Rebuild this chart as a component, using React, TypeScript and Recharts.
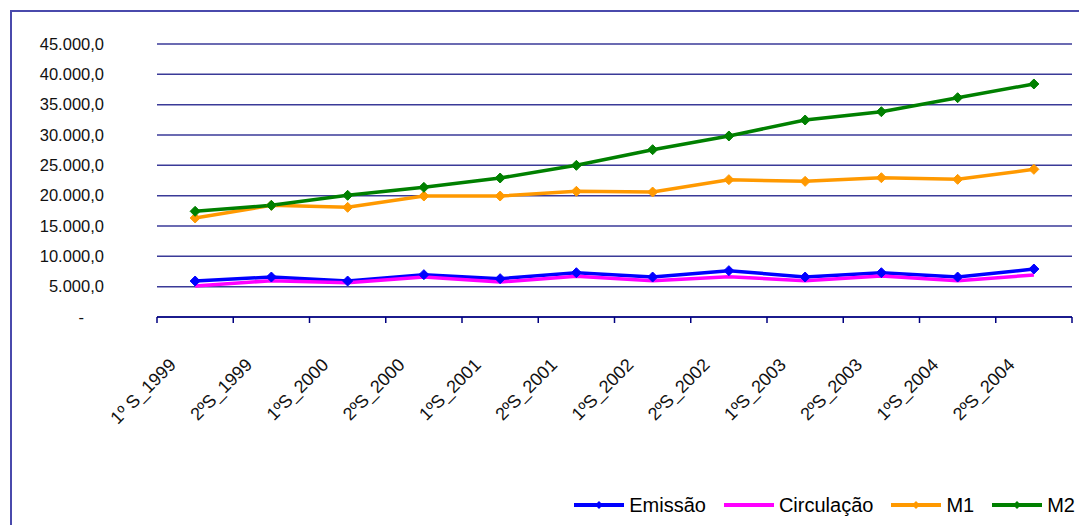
import React from 'react';
import { LineChart, Line, XAxis, YAxis, CartesianGrid, Legend } from 'recharts';

const W = 1079;
const H = 525;

const categories = [
  '1º S_1999', '2ºS_1999', '1ºS_2000', '2ºS_2000', '1ºS_2001', '2ºS_2001',
  '1ºS_2002', '2ºS_2002', '1ºS_2003', '2ºS_2003', '1ºS_2004', '2ºS_2004',
];
const emissao = [5930, 6590, 5930, 6980, 6320, 7300, 6590, 7640, 6590, 7300, 6590, 7910];
const circulacao = [5110, 5990, 5660, 6590, 5770, 6700, 5990, 6650, 5990, 6750, 5990, 6920];
const m1 = [16320, 18400, 18080, 19940, 19940, 20720, 20600, 22640, 22360, 22960, 22690, 24340];
const m2 = [17420, 18410, 20060, 21370, 22910, 25000, 27580, 29840, 32470, 33840, 36150, 38410];
const yTicks = [0, 5000, 10000, 15000, 20000, 25000, 30000, 35000, 40000, 45000];
// boundaries between categories, Excel puts the tick marks there
const xTicks = categories.map((_, i) => i).concat([categories.length]);

const series = [
  { key: 'emissao', name: 'Emissão', color: '#0000ff', marker: true },
  { key: 'circulacao', name: 'Circulação', color: '#ff00ff', marker: false },
  { key: 'm1', name: 'M1', color: '#ff9900', marker: true },
  { key: 'm2', name: 'M2', color: '#008000', marker: true },
];

const rows = categories.map((c, i) => ({
  x: i + 0.5,
  label: c,
  emissao: emissao[i],
  circulacao: circulacao[i],
  m1: m1[i],
  m2: m2[i],
}));

const FONT = '"Liberation Sans", Arial, sans-serif';

const fmt = (v: number) =>
  v === 0 ? '-' : String(v).replace(/\B(?=(\d{3})+(?!\d))/g, '.') + ',0';

const YTick = (props: any) => {
  const { x, y, payload } = props;
  return (
    <text
      x={payload.value === 0 ? x - 20 : x}
      y={y}
      dy="0.35em"
      textAnchor="end"
      fontSize={16.5}
      fontFamily={FONT}
      fill="#111"
    >
      {fmt(payload.value)}
    </text>
  );
};

const XTick = (props: any) => {
  const { x, y, payload } = props;
  const label = categories[payload.value];
  if (!label) return <g />;
  return (
    <text
      transform={`translate(${x + 20},${y + 43}) rotate(-45)`}
      textAnchor="end"
      fontSize={18}
      fontFamily={FONT}
      fill="#111"
    >
      {label}
    </text>
  );
};

const diamond = (color: string, r: number) => (props: any) => {
  const { cx, cy, index } = props;
  return (
    <path
      key={index}
      d={`M${cx},${cy - r} L${cx + r},${cy} L${cx},${cy + r} L${cx - r},${cy} Z`}
      fill={color}
      stroke={color}
    />
  );
};

const renderLegend = () => (
  <div
    style={{
      display: 'flex',
      justifyContent: 'flex-end',
      alignItems: 'center',
      height: 30,
      paddingRight: 4,
      fontFamily: FONT,
      fontSize: 20,
      color: '#000',
    }}
  >
    {series.map((s, i) => (
      <div key={s.key} style={{ display: 'flex', alignItems: 'center', marginLeft: i === 0 ? 0 : 18 }}>
        <svg width={50} height={12} style={{ marginRight: 5 }}>
          <line x1={0} y1={6} x2={50} y2={6} stroke={s.color} strokeWidth={4} />
          {s.marker && <path d="M25,2 L29,6 L25,10 L21,6 Z" fill={s.color} />}
        </svg>
        <span>{s.name}</span>
      </div>
    ))}
  </div>
);

export default function App() {
  return (
    <div style={{ position: 'absolute', left: 0, top: 0, width: W, height: H, background: '#fff', overflow: 'hidden' }}>
      <div
        style={{
          position: 'absolute',
          left: 10,
          top: 10,
          width: W,
          height: H,
          borderLeft: '2px solid #4a4aac',
          borderTop: '2px solid #4a4aac',
        }}
      />
      <LineChart width={W} height={H} data={rows} margin={{ top: 44, right: 7, bottom: 5, left: 10 }}>
        <CartesianGrid vertical={false} stroke="#3a3a98" strokeWidth={1.5} />
        <XAxis
          type="number"
          dataKey="x"
          domain={[0, categories.length]}
          ticks={xTicks}
          interval={0}
          height={173}
          tickSize={6}
          tickMargin={0}
          axisLine={{ stroke: '#000080', strokeWidth: 1.5 }}
          tickLine={{ stroke: '#000080', strokeWidth: 1.5 }}
          tick={<XTick />}
        />
        <YAxis
          domain={[0, 45000]}
          ticks={yTicks}
          interval={0}
          width={147}
          axisLine={false}
          tickLine={false}
          tickSize={6}
          tickMargin={47}
          tick={<YTick />}
        />
        <Legend verticalAlign="bottom" align="right" height={30} content={renderLegend} wrapperStyle={{ left: 0, width: W }} />
        {series.map((s) => (
          <Line
            key={s.key}
            type="linear"
            dataKey={s.key}
            name={s.name}
            stroke={s.color}
            strokeWidth={3.5}
            dot={s.marker ? diamond(s.color, 5) : false}
            activeDot={false}
            isAnimationActive={false}
          />
        ))}
      </LineChart>
    </div>
  );
}
